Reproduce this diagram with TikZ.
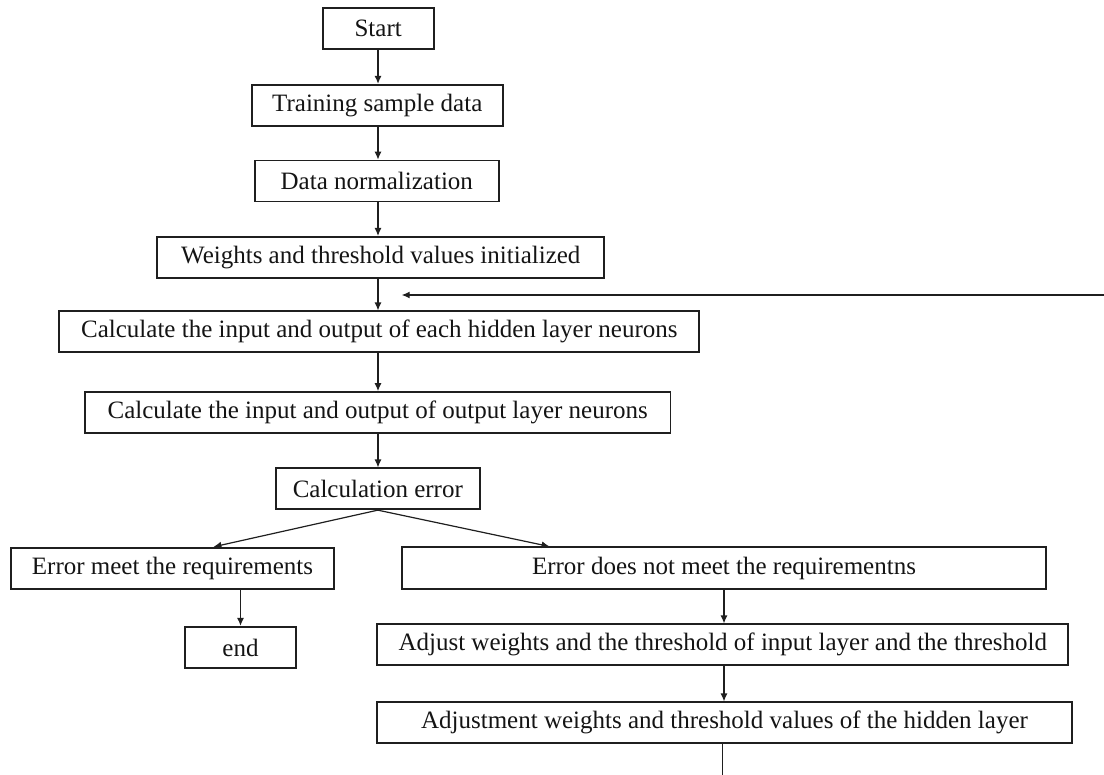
\documentclass[tikz,border=0pt]{standalone}
\usepackage{fontspec}
\setmainfont{Liberation Serif}
\usetikzlibrary{arrows.meta,calc}
\begin{document}
\begin{tikzpicture}[x=1pt,y=1pt,
  box/.style={draw=black!88, line width=1.7pt, inner sep=0pt, text=black!92,
    font=\fontsize{25}{29}\selectfont, minimum height=41pt},
  arr/.style={line width=1.2pt, draw=black!88, -{Latex[length=8pt,width=7pt]}},
  ln/.style={line width=1.2pt, draw=black!88}]
\useasboundingbox (0,0) rectangle (1104,-775);
\node[box, minimum width=111pt] (start) at (378.2,-28.7) {Start};
\node[box, minimum width=250.7pt] (train) at (377.3,-105.2) {Training sample data};
\node[box, minimum width=243.7pt] (norm) at (376.8,-181) {Data normalization};
\node[box, minimum width=447pt] (init) at (380.8,-257.3) {Weights and threshold values initialized};
\node[box, minimum width=640pt] (hidden) at (379.3,-331.8) {Calculate the input and output of each hidden layer neurons};
\node[box, minimum width=585.3pt] (output) at (377.7,-412.5) {Calculate the input and output of output layer neurons};
\node[box, minimum width=204.3pt] (err) at (377.8,-488.8) {Calculation error};
\node[box, minimum width=323.6pt] (meet) at (172.5,-568.2) {Error meet the requirements};
\node[box, minimum width=643.4pt, minimum height=41.7pt] (notmeet) at (724,-568.2) {Error does not meet the requirementns};
\node[box, minimum width=110.4pt, minimum height=41.6pt] (end) at (240.5,-647.5) {end};
\node[box, minimum width=691pt] (adj1) at (722.8,-644.8) {Adjust weights and the threshold of input layer and the threshold};
\node[box, minimum width=694.4pt] (adj2) at (724.5,-722.8) {Adjustment weights and threshold values of the hidden layer};
\coordinate (col) at (378,0);
\coordinate (colb) at (724,0);
\coordinate (fbstart) at (1104,-295);
\coordinate (fbend) at (401.7,-295);
\coordinate (bottom) at (722.5,-775);
\draw[arr] (start.south -| col) -- (train.north -| col);
\draw[arr] (train.south -| col) -- (norm.north -| col);
\draw[arr] (norm.south -| col) -- (init.north -| col);
\draw[arr] (init.south -| col) -- (hidden.north -| col);
\draw[arr] (hidden.south -| col) -- (output.north -| col);
\draw[arr] (output.south -| col) -- (err.north -| col);
\draw[arr] (err.south) -- ($(meet.north west)!0.626!(meet.north east)$);
\draw[arr] (err.south) -- ($(notmeet.north west)!0.2296!(notmeet.north east)$);
\draw[arr] (meet.south -| end.north) -- (end.north);
\draw[arr] (notmeet.south -| colb) -- (adj1.north -| colb);
\draw[arr] (adj1.south -| colb) -- (adj2.north -| colb);
\draw[ln] (adj2.south -| bottom) -- (bottom);
\draw[arr] (fbstart) -- (fbend);
\end{tikzpicture}
\end{document}
